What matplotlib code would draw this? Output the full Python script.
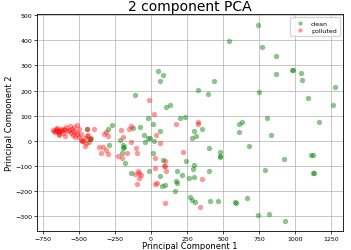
import matplotlib
matplotlib.use("Agg")
import matplotlib.pyplot as plt

# principal component scores
clean_pc1 = [741, 539, 773, 870, 981, 985, 1042, 866, 1049, 51, 81, 60, 435, 326, 396,
             750, -113, 1276, 1090, 1262, 102, 134, -23, 234, 204, 806, 1164, 634,
             -267, -295, -126, -75, 13, 66, -47, -17, -6, 22, -42, -214, -288, -191,
             -191, -198, -177, -422, -446, -135, 13, 85, -10, 64, 101, 74, 165, 172,
             181, 181, 216, 244, 263, 297, 297, 295, 270, 282, 307, 286, 316, 300,
             353, 406, 406, 411, 464, 480, 480, 480, 587, 590, 608, 611, 679, 665,
             744, 821, 795, 834, 922, 934, 1110, 1128, 1128, 1130, -190, -420]
clean_pc2 = [462, 396, 372, 337, 282, 280, 270, 266, 243, 277, 260, 237, 237, 203, 185,
             194, 181, 216, 172, 143, 135, 141, 92, 96, 89, 89, 76, 73,
             64, 48, 51, 55, 68, 38, 22, 12, 10, -1, -3, 3, -17, -27,
             -17, -49, -88, 6, 48, -128, -49, -75, -121, -141, -177, -180, -199, -160,
             -166, -121, -137, -82, -147, -145, -95, -112, -222, -234, -245, 10, 20, 38,
             48, -30, -118, -241, -238, -46, -60, -66, -245, -247, 68, 35, -20, -229,
             -293, -289, -117, 22, -73, -319, -56, -56, -128, -126, -25, 8]

polluted_pc1 = [-16, 21, -682, -659, -640, -623, -612, -635, -589, -579, -563, -549, -532,
                -521, -516, -498, -525, -542, -498, -486, -447, -442, -451, -456, -433,
                -417, -396, -477, -461, -359, -336, -347, -310, -301, -326, -310, -301,
                -231, -204, -208, -192, -169, -150, -137, -139, -104, -95, -100, -86,
                -82, -70, -88, -109, 175, 38, 64, 31, 31, 31, 42, 98, 92, 95, 104, 98,
                224, 353, 342, 330, 326, -670, -655, -645, -630, -620, -600, -650,
                -665, -605, -570, -555, -540, -510, -600, -640, -485, -470, -440]
polluted_pc2 = [161, 105, 42, 48, 38, 46, 33, 29, 55, 38, 61, 46, 55,
                35, 64, 46, 16, 22, 16, 29, 20, 48, -10, -20, -6,
                10, 48, -1, 10, -23, -23, -49, -36, -53, 29, 35, 20,
                -62, -69, 42, 16, -49, 48, 61, -3, -30, -49, -173, -128,
                -147, -136, -119, -131, 68, 22, -10, -69, -108, -170, -166, -82, -101, -99, -121, -247,
                -43, -151, -262, 68, 73, 40, 44, 36, 40, 42, 45, 50,
                35, 48, 44, 30, 40, 26, 20, 25, 5, 0, 25]

fig, ax = plt.subplots(figsize=(3.51, 2.51), dpi=100)
fig.subplots_adjust(left=0.105, right=0.977, top=0.94, bottom=0.075)

ax.scatter(clean_pc1, clean_pc2, c="g", s=15, alpha=0.45, linewidths=0, label="clean")
ax.scatter(polluted_pc1, polluted_pc2, c="r", s=15, alpha=0.4, linewidths=0, label="polluted")

ax.set_xlim(-792, 1333)
ax.set_ylim(-359, 504)
ax.set_xticks([-750, -500, -250, 0, 250, 500, 750, 1000, 1250])
ax.set_yticks([-300, -200, -100, 0, 100, 200, 300, 400, 500])
ax.tick_params(labelsize=4.5, length=2, width=0.5, pad=1.5)
ax.grid(True, color="#b0b0b0", linewidth=0.5)
ax.set_axisbelow(True)
for sp in ax.spines.values():
    sp.set_linewidth(0.6)

ax.set_xlabel("Principal Component 1", fontsize=6, labelpad=0)
ax.set_ylabel("Principal Component 2", fontsize=6, labelpad=1)
ax.set_title("2 component PCA", fontsize=10, pad=3)
ax.legend(loc="upper right", fontsize=4.5, markerscale=0.8, handletextpad=0.8,
          borderpad=0.5, labelspacing=0.3, framealpha=0.8)

fig.savefig("out.png", dpi=100)
